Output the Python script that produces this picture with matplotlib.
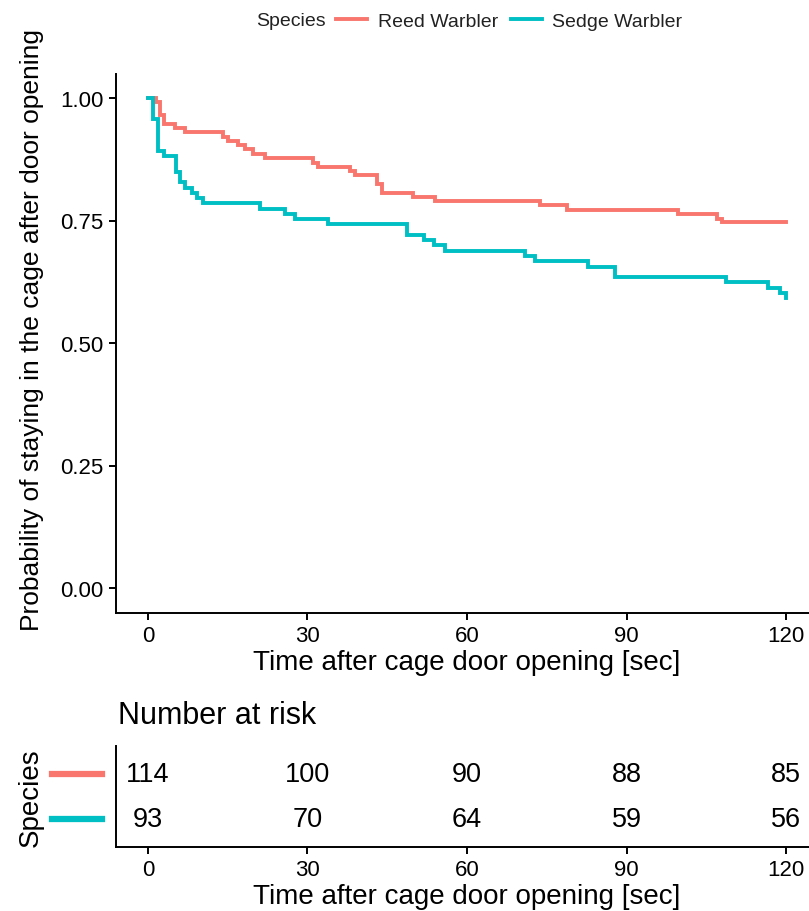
import matplotlib
matplotlib.use("Agg")
import matplotlib.pyplot as plt
import matplotlib.transforms as mtransforms
from matplotlib.lines import Line2D

plt.rcParams['font.family'] = ['Liberation Sans', 'DejaVu Sans']

# Kaplan-Meier step curves
reed_time = [0, 1.5, 2.2, 3.0, 5.1, 7.0, 14.1, 15.0, 17.0, 18.2, 19.8, 22.0, 31.0, 32.0,
             38.0, 39.0, 43.0, 44.0, 49.9, 54.0, 73.7, 78.8, 99.7, 107.0, 108.0, 120]
reed_surv = [1.0, 0.991, 0.965, 0.947, 0.939, 0.930, 0.921, 0.912, 0.904, 0.895, 0.886, 0.877,
             0.868, 0.860, 0.851, 0.842, 0.825, 0.807, 0.798, 0.789, 0.781, 0.772, 0.763,
             0.754, 0.746, 0.746]

sedge_time = [0, 0.9, 1.9, 3.0, 5.2, 6.0, 7.0, 8.2, 9.2, 10.3, 21.0, 25.8, 27.6, 33.9,
              48.7, 51.9, 53.8, 55.9, 70.9, 72.8, 82.8, 87.8, 108.7, 116.6, 118.9, 120]
sedge_surv = [1.0, 0.957, 0.892, 0.882, 0.849, 0.828, 0.817, 0.806, 0.796, 0.785, 0.774,
              0.763, 0.753, 0.742, 0.720, 0.710, 0.699, 0.688, 0.677, 0.667, 0.656, 0.634,
              0.624, 0.613, 0.602, 0.591]

# number at risk table
risk_times = [0, 30, 60, 90, 120]
reed_risk = [114, 100, 90, 88, 85]
sedge_risk = [93, 70, 64, 59, 56]

species = ['Reed Warbler', 'Sedge Warbler']
colors = ['#F8766D', '#00BFC4']

W, H = 809, 912
fig = plt.figure(figsize=(W / 100, H / 100), dpi=100)

def fx(px):
    return px / W

def fy(px):
    return 1 - px / H

# main survival panel
ax = fig.add_axes([fx(116), fy(613.5), fx(818) - fx(116), fy(74.5) - fy(613.5)])
ax.step(reed_time, reed_surv, where='post', color=colors[0], lw=2.8, solid_joinstyle='miter')
ax.step(sedge_time, sedge_surv, where='post', color=colors[1], lw=2.8, solid_joinstyle='miter')
ax.set_xlim(-6, 126)
ax.set_ylim(-0.05, 1.05)
ax.set_xticks(risk_times)
ax.set_yticks([0, 0.25, 0.5, 0.75, 1.0])
ax.set_yticklabels(['0.00', '0.25', '0.50', '0.75', '1.00'])
ax.set_xlabel('Time after cage door opening [sec]', fontsize=20, labelpad=2)
ax.set_ylabel('Probability of staying in the cage after door opening', fontsize=19)
ax.yaxis.set_label_coords(-0.1026, 0.526)

# risk table panel
tax = fig.add_axes([fx(116), fy(848), fx(818) - fx(116), fy(747) - fy(848)])
tax.set_xlim(-6, 126)
tax.set_ylim(0.4, 2.6)
for t, n in zip(risk_times, reed_risk):
    tax.text(t, 2, str(n), ha='center', va='center', fontsize=19.5)
for t, n in zip(risk_times, sedge_risk):
    tax.text(t, 1, str(n), ha='center', va='center', fontsize=19.5)
tax.set_xticks(risk_times)
tax.set_yticks([])
tax.set_xlabel('Time after cage door opening [sec]', fontsize=20, labelpad=2)
tax.set_ylabel('Species', fontsize=20)
tax.yaxis.set_label_coords(-0.1026, 0.5)
tax.text(0.003, 1.31, 'Number at risk', transform=tax.transAxes, fontsize=22,
         ha='left', va='center')

# coloured strata keys in place of y tick labels
blend = mtransforms.blended_transform_factory(fig.transFigure, tax.transData)
tax.add_line(Line2D([fx(52), fx(102)], [2, 2], color=colors[0], lw=4.5,
                    transform=blend, clip_on=False))
tax.add_line(Line2D([fx(52), fx(102)], [1, 1], color=colors[1], lw=4.5,
                    transform=blend, clip_on=False))

for a in (ax, tax):
    for s in ('top', 'right'):
        a.spines[s].set_visible(False)
    for s in ('left', 'bottom'):
        a.spines[s].set_linewidth(1.4)
    a.tick_params(axis='both', labelsize=16, length=5, width=1.4, colors='black', pad=4)

# legend on top
fig.text(fx(256), fy(22), 'Species', fontsize=14, ha='left', va='center', color='#222222')
handles = [Line2D([], [], color=c, lw=2.8) for c in colors]
leg = fig.legend(handles, species, ncol=2, loc='center left', bbox_to_anchor=(fx(336), fy(22)),
                 frameon=False, fontsize=14, handlelength=1.6, handletextpad=0.55,
                 columnspacing=0.65, borderpad=0, borderaxespad=0)
for txt in leg.get_texts():
    txt.set_color('#222222')

fig.savefig('out.png', dpi=100)
